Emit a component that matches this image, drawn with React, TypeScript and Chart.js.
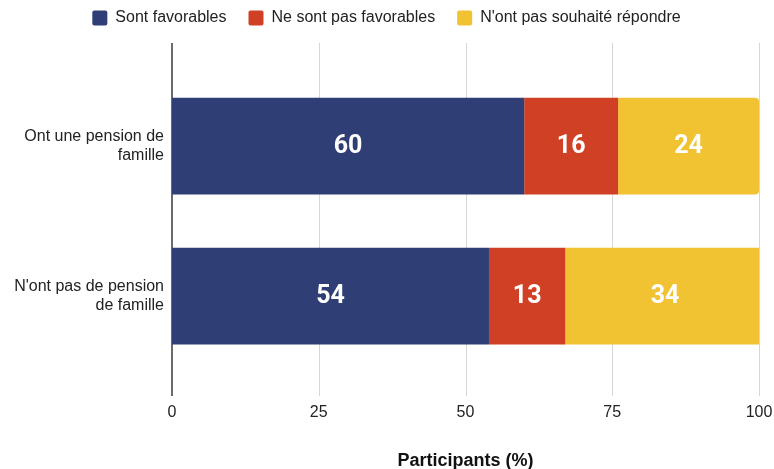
import React, { useEffect, useRef } from "react";
import { Chart, registerables } from "chart.js";

Chart.register(...registerables);

const categories: string[][] = [
  ["Ont une pension de", "famille"],
  ["N'ont pas de pension", "de famille"],
];
const seriesNames: string[] = [
  "Sont favorables",
  "Ne sont pas favorables",
  "N'ont pas souhaité répondre",
];
const favorables: number[] = [60, 54];
const pasFavorables: number[] = [16, 13];
const sansReponse: number[] = [24, 34];
const seriesColors: string[] = ["#2f3f76", "#cf4025", "#f1c232"];
const xTicks: number[] = [0, 25, 50, 75, 100];
const axisTitle = "Participants (%)";

const FONT = "'Liberation Sans', Arial, Helvetica, sans-serif";

const gridPlugin = {
  id: "customGrid",
  beforeDatasetsDraw(chart: any) {
    const { ctx, chartArea, scales } = chart;
    const x = scales.x;
    ctx.save();
    xTicks.forEach((v) => {
      const px = Math.round(x.getPixelForValue(v)) + (v === 0 ? 0 : 0.5);
      ctx.beginPath();
      if (v === 0) {
        ctx.strokeStyle = "#6b6b6b";
        ctx.lineWidth = 2;
      } else {
        ctx.strokeStyle = "#d6d6d6";
        ctx.lineWidth = 1;
      }
      ctx.moveTo(px, chartArea.top - 28);
      ctx.lineTo(px, chartArea.bottom + 25);
      ctx.stroke();
    });
    ctx.restore();
  },
};

const labelPlugin = {
  id: "barLabels",
  afterDatasetsDraw(chart: any) {
    const { ctx } = chart;
    ctx.save();
    ctx.fillStyle = "#ffffff";
    ctx.font = "700 25px Roboto, 'Liberation Sans', sans-serif";
    ctx.textAlign = "center";
    ctx.textBaseline = "middle";
    chart.data.datasets.forEach((ds: any, i: number) => {
      const meta = chart.getDatasetMeta(i);
      meta.data.forEach((el: any, j: number) => {
        const p = el.getCenterPoint();
        ctx.fillText(String(ds.data[j]), p.x, p.y + 1);
      });
    });
    ctx.restore();
  },
};

const legendSpacer = {
  id: "legendSpacer",
  beforeInit(chart: any) {
    const legend = chart.legend;
    if (!legend) return;
    const origFit = legend.fit;
    legend.fit = function () {
      origFit.bind(this)();
      this.height = 83;
    };
    const origDraw = legend.draw;
    legend.draw = function (...args: any[]) {
      const ctx = this.ctx;
      ctx.save();
      ctx.translate(7, 0);
      origDraw.apply(this, args);
      ctx.restore();
    };
  },
};

export default function App() {
  const ref = useRef<HTMLCanvasElement | null>(null);
  useEffect(() => {
    if (!ref.current) return;
    const chart = new Chart(ref.current, {
      type: "bar",
      data: {
        labels: categories,
        datasets: [
          {
            label: seriesNames[0],
            data: favorables,
            backgroundColor: seriesColors[0],
            borderWidth: 0,
            borderRadius: 0,
          },
          {
            label: seriesNames[1],
            data: pasFavorables,
            backgroundColor: seriesColors[1],
            borderWidth: 0,
            borderRadius: 0,
          },
          {
            label: seriesNames[2],
            data: sansReponse,
            backgroundColor: seriesColors[2],
            borderWidth: 0,
            borderRadius: { topLeft: 0, bottomLeft: 0, topRight: 4, bottomRight: 4 },
            borderSkipped: false,
          },
        ],
      },
      options: {
        indexAxis: "y",
        animation: false,
        responsive: true,
        maintainAspectRatio: false,
        datasets: {
          bar: { categoryPercentage: 1, barPercentage: 0.645 },
        },
        layout: { padding: { top: -12, right: 15, left: 0, bottom: 0 } },
        plugins: {
          legend: {
            position: "top",
            align: "center",
            labels: {
              boxWidth: 15,
              boxHeight: 15,
              useBorderRadius: true,
              borderRadius: 2,
              padding: 22,
              color: "#222222",
              font: { family: FONT, size: 16 },
            },
          },
          tooltip: { enabled: false },
        },
        scales: {
          x: {
            stacked: true,
            min: 0,
            max: 100,
            grid: { display: false, drawTicks: true, tickLength: 32 },
            border: { display: false },
            afterBuildTicks(scale: any) {
              scale.ticks = xTicks.map((v) => ({ value: v }));
            },
            ticks: {
              color: "#222222",
              padding: 0,
              font: { family: FONT, size: 16 },
            },
            title: {
              display: true,
              text: axisTitle,
              color: "#111111",
              font: { family: FONT, size: 18, weight: "bold" },
              padding: { top: 0, bottom: -3 },
            },
            afterFit(scale: any) {
              scale.height = 98;
            },
          },
          y: {
            stacked: true,
            grid: { display: false, drawTicks: false },
            border: { display: false },
            ticks: {
              color: "#222222",
              padding: 8,
              font: { family: FONT, size: 16, lineHeight: 1.2 },
            },
            afterFit(scale: any) {
              scale.width = 172;
            },
          },
        },
      },
      plugins: [legendSpacer, gridPlugin, labelPlugin],
    } as any);
    return () => chart.destroy();
  }, []);
  return (
    <div style={{ position: "absolute", left: 0, top: 0, width: 774, height: 469 }}>
      <canvas ref={ref} />
    </div>
  );
}
